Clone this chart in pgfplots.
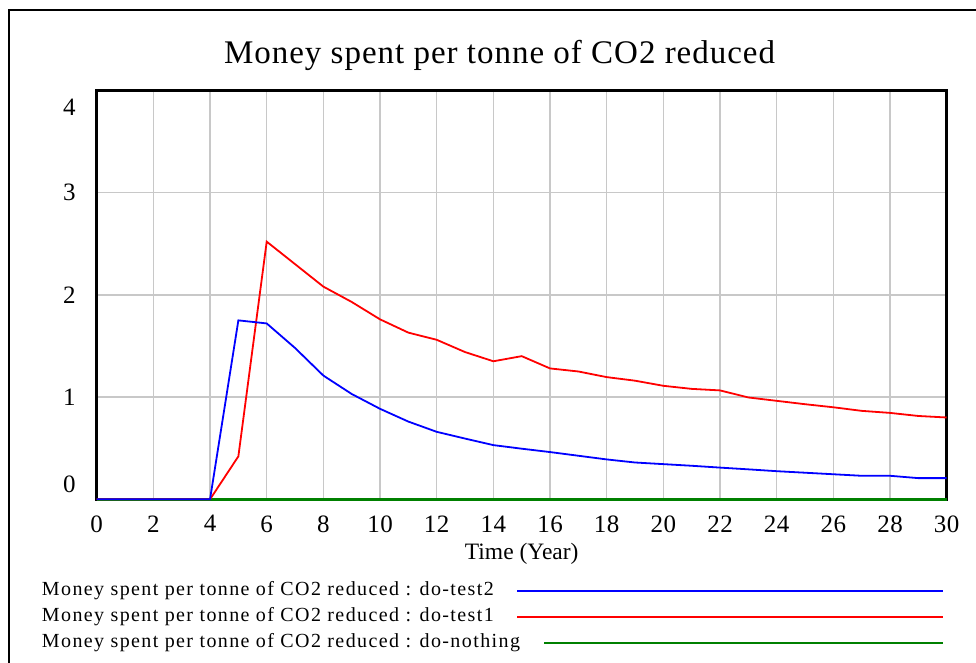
\documentclass[border=0pt]{standalone}
\usepackage{fontspec}
\setmainfont{Liberation Serif}
\newfontfamily\legfont[LetterSpace=7]{Liberation Serif}
\newfontfamily\titlefont[LetterSpace=3]{Liberation Serif}
\newfontfamily\tickfont[LetterSpace=2]{Liberation Serif}
\usepackage{pgfplots}
\pgfplotsset{compat=1.18}
\definecolor{gridgray}{RGB}{200,200,200}
\definecolor{vgreen}{RGB}{0,128,0}
\pgfplotsset{
  shortleg/.style={legend image code/.code={\draw[##1, line width=2pt, overlay] (0pt,0pt) -- (399pt,0pt);}},
  longleg/.style={legend image code/.code={\draw[##1, line width=2pt, overlay] (-27pt,0pt) -- (399pt,0pt);}},
}
\begin{document}
\begin{tikzpicture}[x=1pt,y=1pt]
\useasboundingbox (0,0) rectangle (976,662);
\draw[line width=2pt] (9,-20) -- (9,652) -- (1000,652);
\begin{axis}[
  at={(96.7pt,162.7pt)}, anchor=south west,
  scale only axis, width=850pt, height=409pt,
  xmin=0, xmax=30, ymin=0, ymax=4,
  xtick={0,2,...,30}, ytick={0,1,2,3,4},
  yticklabels={{\raisebox{6.5pt}[0pt][0pt]{0}},1,2,3,{\raisebox{-25pt}[0pt][0pt]{4}}},
  grid=major, major grid style={gridgray, line width=1.4pt},
  axis line style={line width=3pt, black},
  major tick length=0pt,
  /pgf/number format/assume math mode=true,
  tick label style={font=\tickfont\fontsize{25}{29}\selectfont, inner sep=0pt},
  xticklabel style={yshift=-16pt},
  yticklabel style={xshift=-21pt},
  xlabel={Time (Year)},
  xlabel style={font=\fontsize{23.5}{27}\selectfont, at={(axis description cs:0.5,-0.148)}, anchor=base, inner sep=0pt},
  title={Money spent per tonne of CO2 reduced},
  title style={font=\titlefont\fontsize{33}{38}\selectfont, at={(axis description cs:0.474,1.052)}, anchor=base, inner sep=0pt},
  legend style={at={(axis description cs:-0.0644,-0.2009)}, anchor=north west, draw=none, fill=none,
    inner sep=0pt, outer sep=0pt, font=\legfont\fontsize{20}{23}\selectfont,
    row sep=7pt, column sep=24pt, nodes={inner sep=0pt, text height=14pt, text depth=5pt}},
  legend cell align=left,
  legend plot pos=right,
  reverse legend,
  clip=false,
]
\addplot[vgreen, line width=2.5pt, shortleg] coordinates {
(0,0) (1,0) (2,0) (3,0) (4,0) (5,0) (6,0) (7,0) (8,0) (9,0) (10,0)
(11,0) (12,0) (13,0) (14,0) (15,0) (16,0) (17,0) (18,0) (19,0) (20,0)
(21,0) (22,0) (23,0) (24,0) (25,0) (26,0) (27,0) (28,0) (29,0) (30,0)};
\addlegendentry{Money spent per tonne of CO2 reduced : do-nothing}
\addplot[red, line width=1.8pt, longleg] coordinates {
(0,0) (1,0) (2,0) (3,0) (4,0) (5,0.42) (6,2.52) (7,2.30) (8,2.08) (9,1.93) (10,1.76)
(11,1.63) (12,1.56) (13,1.44) (14,1.35) (15,1.40) (16,1.28) (17,1.25) (18,1.195) (19,1.16) (20,1.11)
(21,1.08) (22,1.065) (23,0.996) (24,0.963) (25,0.93) (26,0.90) (27,0.865) (28,0.845) (29,0.815) (30,0.80)};
\addlegendentry{Money spent per tonne of CO2 reduced : do-test1}
\addplot[blue, line width=1.8pt, longleg] coordinates {
(0,0) (1,0) (2,0) (3,0) (4,0) (5,1.75) (6,1.72) (7,1.48) (8,1.21) (9,1.03) (10,0.885)
(11,0.76) (12,0.66) (13,0.594) (14,0.53) (15,0.495) (16,0.462) (17,0.426) (18,0.39) (19,0.36) (20,0.344)
(21,0.328) (22,0.31) (23,0.293) (24,0.275) (25,0.26) (26,0.245) (27,0.23) (28,0.23) (29,0.207) (30,0.207)};
\addlegendentry{Money spent per tonne of CO2 reduced : do-test2}
\end{axis}
\end{tikzpicture}
\end{document}
